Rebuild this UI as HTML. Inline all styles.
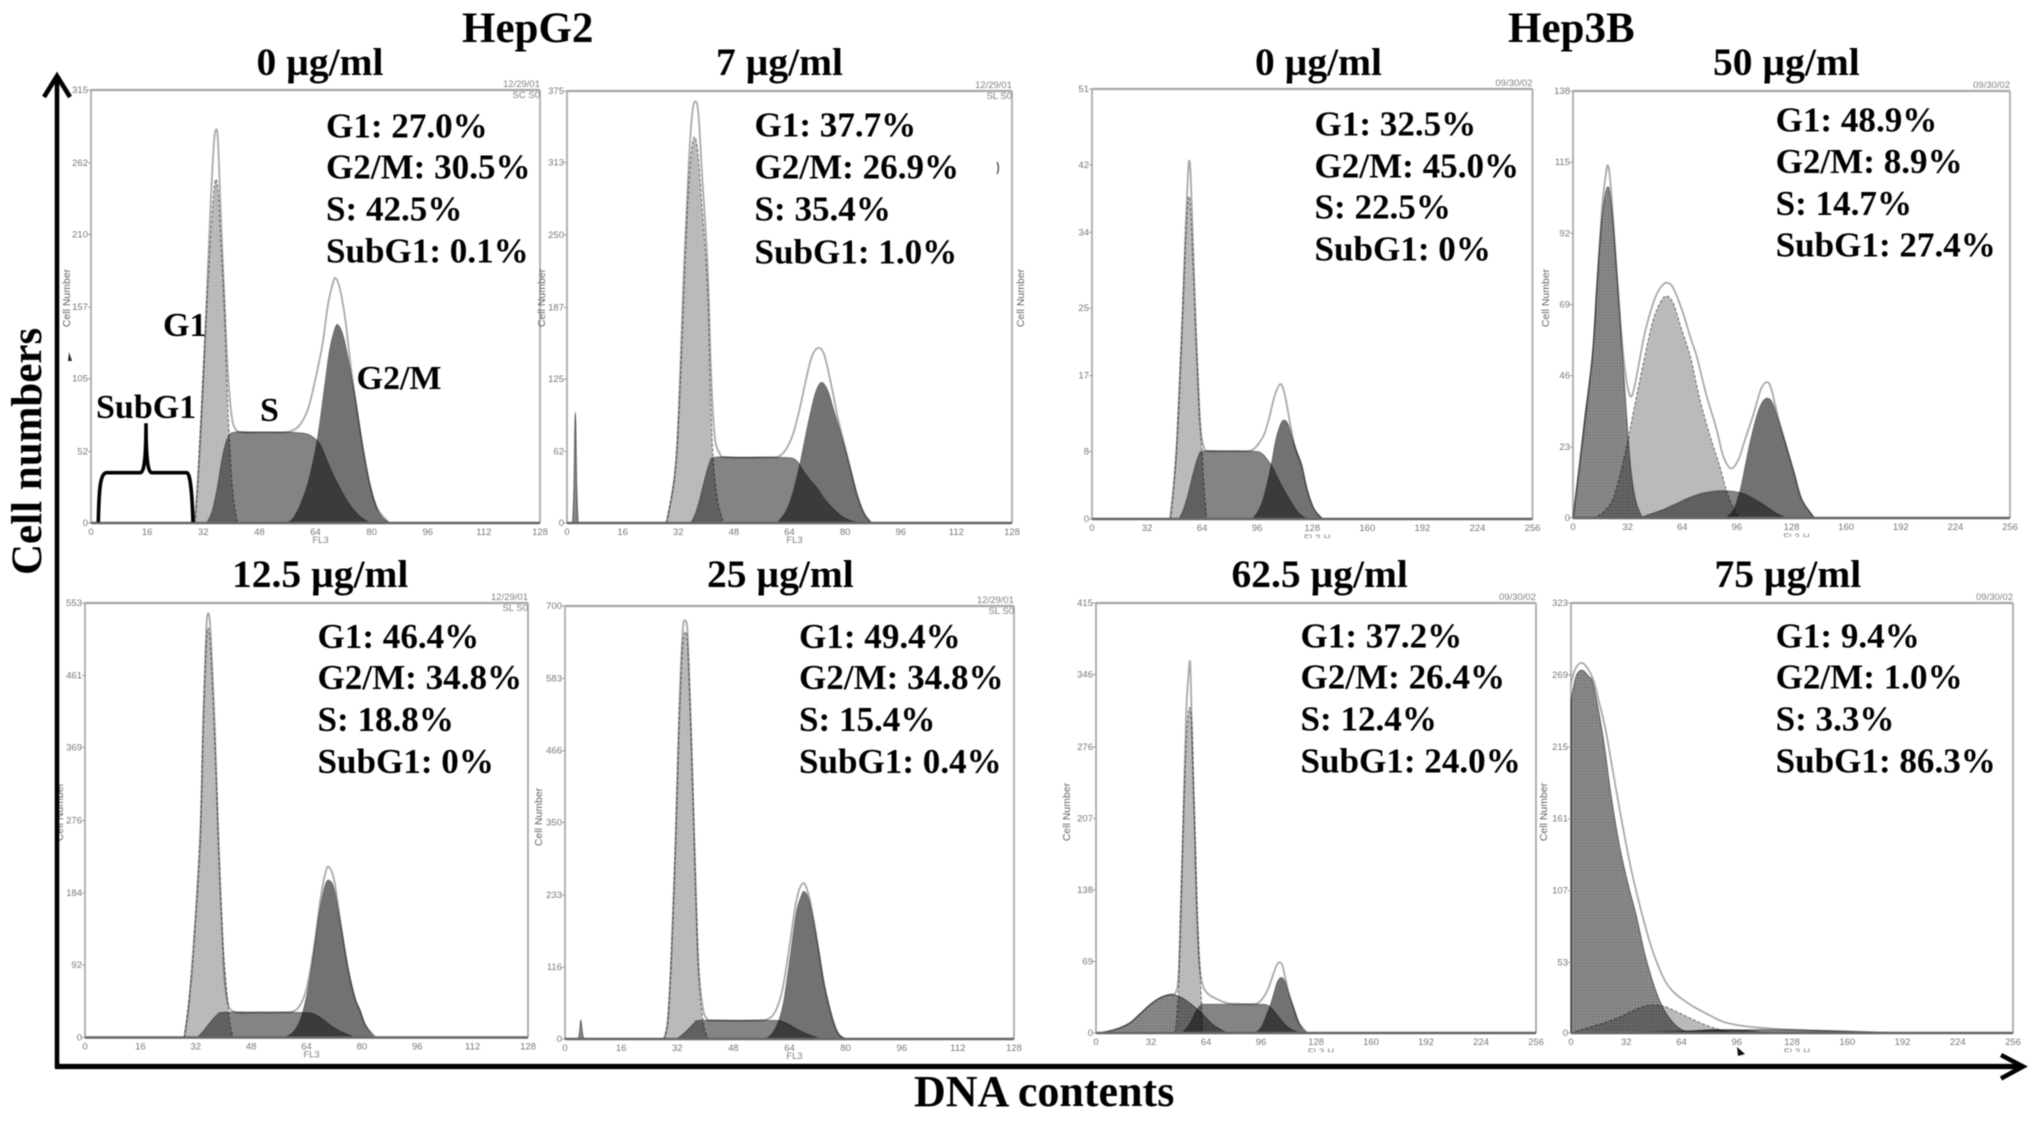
<!DOCTYPE html>
<html lang="en">
<head>
<meta charset="utf-8">
<title>Cell cycle DNA content histograms for HepG2 and Hep3B</title>
<style>
html,body{margin:0;padding:0;background:#fff;width:2031px;height:1121px;overflow:hidden}
#figure{display:block;filter:blur(.6px)}
.big{font-family:"Liberation Serif",serif;font-weight:bold;fill:#000}
.title{font-size:43px}
.dose{font-size:39.5px}
.stat{font-size:35.1px}
.note{font-size:34px}
.axis-title{font-size:44px}
.tick{font-family:"Liberation Sans",sans-serif;font-size:9.5px;fill:#777}
.small{font-family:"Liberation Sans",sans-serif;font-size:9.5px;fill:#808080}
.ytitle{font-family:"Liberation Sans",sans-serif;font-size:10.5px;fill:#666}
</style>
</head>
<body>
<svg id="figure" xmlns="http://www.w3.org/2000/svg" width="2031" height="1121" viewBox="0 0 2031 1121">
  <defs>
    <pattern id="dots" width="3" height="3" patternUnits="userSpaceOnUse">
      <rect width="3" height="3" fill="#bcbcbc"/>
      <rect width="1" height="1" fill="#a6a6a6"/>
    </pattern>
    <pattern id="hatch" width="3" height="3" patternUnits="userSpaceOnUse">
      <rect width="3" height="3" fill="#8e8e8e"/>
      <path d="M0 0H3M0 0V3" stroke="#707070" stroke-width="1"/>
    </pattern>
  </defs>
  <rect width="2031" height="1121" fill="#fff"/>
  <g id="plots"></g>

  <text class="big title" x="462" y="42">HepG2</text>
  <text class="big title" x="1508" y="42">Hep3B</text>

  <text class="big dose" x="256.500" y="75">0 µg/ml</text>
  <text class="big dose" x="716" y="75">7 µg/ml</text>
  <text class="big dose" x="232" y="587">12.5 µg/ml</text>
  <text class="big dose" x="707" y="587">25 µg/ml</text>
  <text class="big dose" x="1255" y="75">0 µg/ml</text>
  <text class="big dose" x="1713" y="75">50 µg/ml</text>
  <text class="big dose" x="1231.500" y="587">62.5 µg/ml</text>
  <text class="big dose" x="1714.500" y="587">75 µg/ml</text>

  <g class="big stat">
    <text x="326" y="137.5">G1: 27.0%</text><text x="326" y="178.6">G2/M: 30.5%</text><text x="326" y="220.7">S: 42.5%</text><text x="326" y="262.5">SubG1: 0.1%</text>
  </g>
  <g class="big stat">
    <text x="754.5" y="136.4">G1: 37.7%</text><text x="754.5" y="178.6">G2/M: 26.9%</text><text x="754.5" y="220.7">S: 35.4%</text><text x="754.5" y="263.5">SubG1: 1.0%</text>
  </g>
  <g class="big stat">
    <text x="317.5" y="648">G1: 46.4%</text><text x="317.5" y="689">G2/M: 34.8%</text><text x="317.5" y="731">S: 18.8%</text><text x="317.5" y="773">SubG1: 0%</text>
  </g>
  <g class="big stat">
    <text x="799" y="648">G1: 49.4%</text><text x="799" y="689">G2/M: 34.8%</text><text x="799" y="731">S: 15.4%</text><text x="799" y="773">SubG1: 0.4%</text>
  </g>
  <g class="big stat">
    <text x="1314.5" y="135.7">G1: 32.5%</text><text x="1314.5" y="177.5">G2/M: 45.0%</text><text x="1314.5" y="218.6">S: 22.5%</text><text x="1314.5" y="260.7">SubG1: 0%</text>
  </g>
  <g class="big stat">
    <text x="1775.6" y="131.4">G1: 48.9%</text><text x="1775.6" y="173">G2/M: 8.9%</text><text x="1775.6" y="215">S: 14.7%</text><text x="1775.6" y="256.4">SubG1: 27.4%</text>
  </g>
  <g class="big stat">
    <text x="1300.5" y="647.5">G1: 37.2%</text><text x="1300.5" y="688.6">G2/M: 26.4%</text><text x="1300.5" y="730.7">S: 12.4%</text><text x="1300.5" y="772.5">SubG1: 24.0%</text>
  </g>
  <g class="big stat">
    <text x="1775.6" y="647.5">G1: 9.4%</text><text x="1775.6" y="688.6">G2/M: 1.0%</text><text x="1775.6" y="730.7">S: 3.3%</text><text x="1775.6" y="772.5">SubG1: 86.3%</text>
  </g>

  <text class="big note" x="163" y="336">G1</text>
  <text class="big note" x="96" y="418">SubG1</text>
  <text class="big note" x="260" y="421">S</text>
  <text class="big note" x="356.5" y="389">G2/M</text>
  <path fill="none" stroke="#000" stroke-width="3.6"
        d="M98.3 522C99 490 100 472.7 106.7 472.7L140 472.7C142.500 472.7 146 470 146 423.300C146 470 149.500 472.700 152 472.700L186.700 472.700C190 472.700 192 490 193 522"/>

  <path d="M69 352L72 361L68 361Z" fill="#222"/>
  <path d="M997 162Q1000 168 997 174" fill="none" stroke="#333" stroke-width="1.2"/>
  <path d="M1737 1047L1745 1054L1738 1056Z" fill="#111"/>

  <g fill="none" stroke="#000">
    <path d="M57 76V1068" stroke-width="4.6"/>
    <path d="M44 97L57 76L70 97" stroke-width="4.6"/>
  </g>
  <g fill="none" stroke="#000">
    <path d="M55 1066.500H2022" stroke-width="5.200"/>
    <path d="M2001 1055L2023 1066.500L2001 1078.500" stroke-width="4.600"/>
  </g>
  <text class="big axis-title" style="font-size:43px" transform="translate(41 575) rotate(-90)">Cell numbers</text>
  <text class="big axis-title" x="914" y="1106">DNA contents</text>
</svg>

<script>
// Tick labels
const hepG2XTicks = [0, 16, 32, 48, 64, 80, 96, 112, 128];
const hep3BXTicks = [0, 32, 64, 96, 128, 160, 192, 224, 256];
const A_yTicks = [0, 52, 105, 157, 210, 262, 315];
const B_yTicks = [0, 62, 125, 187, 250, 313, 375];
const C_yTicks = [0, 92, 184, 276, 369, 461, 553];
const D_yTicks = [0, 116, 233, 350, 466, 583, 700];
const E_yTicks = [0, 8, 17, 25, 34, 42, 51];
const F_yTicks = [0, 23, 46, 69, 92, 115, 138];
const G_yTicks = [0, 69, 138, 207, 276, 346, 415];
const H_yTicks = [0, 53, 107, 161, 215, 269, 323];

// HepG2 0 ug/ml: [channel, count]
const A_g1 = [[29.6,0],[30.5,30],[31.2,69],[32,110],[33,157],[34,205],[35,240],[35.6,250],[36.3,240],[37,205],[38,157],[38.7,105],[39.3,69],[40.3,25],[41.7,0]];
const A_s = [[33,0],[34.5,8],[36,25],[37.5,48],[39,62],[41,66],[48,66],[55,66],[61,65],[63.5,62],[65.3,57],[67,47],[69,35],[71,25],[73,16],[75,9],[77,4],[79.5,0]];
const A_g2 = [[55.8,0],[57.5,3],[59.5,12],[62,30],[64.5,60],[66.5,97],[68,125],[69.5,141],[70.5,144],[72,135],[74,110],[75.5,88],[77.5,55],[79.5,28],[81.5,11],[83,4],[85,0]];
const A_total = [[29.6,0],[31,55],[32,105],[33,165],[34,225],[35,275],[35.6,286],[36.2,278],[37,225],[38,165],[39,110],[40,80],[41,69],[43,66],[48,66],[55,66],[58,68],[60,73],[62,84],[64,105],[66,130],[67.5,158],[69,175],[69.8,178],[71,170],[72.5,148],[74,115],[75.5,88],[77.5,55],[79.5,28],[81.5,11],[85,0]];

// HepG2 7 ug/ml
const B_sub = [[1.6,0],[2,30],[2.4,96],[2.8,30],[3.2,0]];
const B_g1 = [[28.6,0],[30,22],[31.5,57],[32.7,130],[33.7,206],[34.7,275],[35.7,320],[36.7,335],[37.7,320],[38.7,280],[40.4,206],[41.2,120],[42,57],[43.3,20],[45,0]];
const B_s = [[35.6,0],[36.7,6],[38,18],[39.5,36],[41,52],[42.5,57],[50,57],[58,57],[64,56.5],[66,54],[68,45],[70,37],[72,30],[74,21],[77,11],[80,4],[84,0]];
const B_g2 = [[60.5,0],[63,10],[65,26],[67,51],[69.5,88],[71.5,113],[73.2,122],[75,115],[76.5,100],[78.3,82],[80,64],[81.6,46],[83.5,24],[85.5,8],[87.6,0]];
const B_total = [[28.6,0],[31.5,60],[33.7,225],[35,310],[36,355],[36.9,366],[37.8,355],[38.8,305],[40.4,225],[41.5,125],[42.5,75],[44,60],[46,57],[58,57],[61,58],[63,64],[65,77],[67,100],[69,128],[70.5,145],[72.3,152],[74,146],[76,120],[78,90],[80,66],[81.6,46],[83.5,24],[85.5,8],[87.6,0]];

// HepG2 12.5 ug/ml
const C_g1 = [[28.7,0],[30.4,62],[31.5,120],[33.2,244],[34.1,380],[35,495],[35.6,521],[36.3,495],[37.5,380],[38.6,244],[39.7,130],[40.9,62],[41.8,20],[42.8,0]];
const C_s = [[32.5,0],[34,7],[36,18],[38,28],[40,32],[50,32],[60,32],[65,31],[67,28],[69,22],[71,15],[74,7],[78,0]];
const C_g2 = [[57.6,0],[60,6],[62,20],[63.4,40],[65,75],[66.5,120],[68,165],[69.5,195],[70.7,199.5],[72,188],[74,140],[76,88],[78,50],[79.4,35],[81,16],[83,3],[84,0]];
const C_total = [[28.7,0],[30.4,62],[33.2,250],[34.1,400],[35,515],[35.6,540],[36.3,515],[37.5,395],[38.6,250],[40,100],[41,50],[43,33],[50,32],[58,32],[60,33],[62,40],[64,62],[66,110],[68,175],[69.5,210],[70.5,217],[72,200],[74,142],[76,88],[78,50],[79.4,35],[81,16],[84,0]];

// HepG2 25 ug/ml
const D_sub = [[3.8,0],[4.2,12],[4.5,31],[4.9,12],[5.3,0]];
const D_g1 = [[28.2,0],[29.3,30],[30.3,130],[31.5,312],[32.5,500],[33.5,630],[34.3,658],[35,630],[36,480],[36.9,312],[38,120],[39.3,30],[40.8,0]];
const D_s = [[31.9,0],[33.5,7],[35,15],[37,26],[38.5,30],[50,30],[60,30],[62,28],[64,23],[66,16],[69,8],[73,0]];
const D_g2 = [[57,0],[59,8],[61,30],[62.5,65],[64.4,140],[66,205],[67.5,233],[68.3,238],[69.5,225],[71,185],[72.4,140],[74,85],[76.4,30],[78,8],[80,0]];
const D_total = [[28.2,0],[29.3,30],[30.3,135],[31.5,320],[32.5,520],[33.5,655],[34.3,676],[35,650],[36,490],[36.9,320],[38,125],[39.3,50],[40.5,33],[42,30],[55,30],[58,33],[60,45],[62,80],[64,150],[66,225],[67.9,252],[69.5,232],[71,190],[72.4,140],[74,85],[76.4,30],[78,8],[80,0]];

// Hep3B 0 ug/ml
const E_g1 = [[45.4,0],[47,2.5],[49,8],[50.5,14],[52.5,23.4],[54,31],[55.5,37],[56.6,38.2],[57.5,36],[58.8,30],[60,23.4],[61.5,17],[63,10.5],[64,8],[65,4],[66.7,0]];
const E_s = [[50.6,0],[53,1],[56,3],[59,5.5],[62,7.5],[65,8.05],[80,8.05],[95,8],[99,7.7],[102,7],[105,6.1],[110,4],[115.4,2.1],[120,0.7],[125,0]];
const E_g2 = [[93,0],[96,0.7],[99,2],[102,4.3],[104.2,6.4],[107,9.5],[110,11.4],[112,11.7],[114,11.2],[116.5,9.5],[119,8],[121.8,6.4],[125,3.5],[129,1.2],[134,0]];
const E_total = [[45.4,0],[49,8],[52.5,24],[54.5,35],[55.8,41],[56.6,42.5],[57.4,40.5],[58.8,32],[60,25],[61.5,17],[63,11],[65,8.5],[68,8.05],[80,8.05],[90,8.05],[94,8.3],[97,9],[100,10],[103,12],[106,14.5],[109.4,16],[112,14.8],[115,11.5],[118,8.5],[121.8,6.4],[125,3.5],[129,1.2],[134,0]];

// Hep3B 50 ug/ml
const F_sub = [[0,0],[3.8,17],[7,33],[11.3,52],[14,75],[17,97],[20.4,107],[23,98],[25.5,80],[29,52],[31.5,32],[33.6,17],[36.5,6],[40.5,0]];
const F_g1 = [[12,0],[18,2],[24,7],[31,22],[36,36],[42,52],[47,64],[52,70.5],[55.6,71.6],[59,69],[63,62],[68.8,52],[74,39],[80,27],[85.8,17],[91,7],[97,0]];
const F_s = [[38.6,0],[44,1],[52,2.5],[60,4.5],[68,6.5],[76,8],[84,8.7],[92,8.7],[100,7.8],[108,5.5],[115,3],[120,1.2],[125.5,0]];
const F_g2 = [[89.6,0],[94,2.5],[98,9],[101,17],[104,25],[108,33.5],[111,37.5],[114.2,38.7],[117,37],[120,32],[124,25],[129.3,15],[134,6],[141.4,0]];
const F_total = [[0,0],[3.8,17],[11.3,52],[14,75],[17,100],[19,110],[20.4,114],[22,108],[25,85],[28,62],[30,50],[32.5,41],[34.8,39.8],[38,48],[41,57],[44,64],[48,71],[52,75],[55.6,76],[59,74],[64,67],[69,58],[72.6,52],[78,40],[84,28.9],[88,20],[92.6,16],[97,19],[100,24],[103,29],[106,34],[110,41.5],[113.4,43.9],[116,42],[120,33],[124,25],[129.3,15],[134,6],[141.4,0]];

// Hep3B 62.5 ug/ml
const G_sub = [[2,0],[8,2],[14,5],[20,10],[26,19],[32,28],[38,34.5],[44,37],[50,34],[56,27],[62,18],[68,8],[76,0]];
const G_g1 = [[45.9,0],[47,15],[48,43],[49,100],[50.4,181],[51.5,240],[53,295],[54.5,314],[55.8,295],[56.8,240],[57.9,181],[59,115],[61,43],[62,0]];
const G_s = [[49.6,0],[52,3],[55,10],[58,20],[61,27],[64,27.6],[80,27.6],[96,27.6],[100,26.5],[103,22],[106,16],[110,8],[114,3],[119,0]];
const G_g2 = [[92.9,0],[96,5],[98,12],[100.4,22],[103,35],[105.5,49],[107.9,53.4],[110,49],[112,38],[115.4,22],[118,10],[120.5,3],[123,0]];
const G_total = [[2,0],[8,2],[14,5],[20,10],[26,19],[32,28],[38,34.5],[44,37.5],[46,38],[48,55],[49.5,130],[51,220],[52.5,310],[54,350],[54.5,358],[55,350],[56,280],[57.2,210],[58.5,130],[60,70],[62,47],[65,38],[70,33],[76,29],[85,28],[92,28],[95,30],[98,36],[100.5,44],[103,56],[105,65],[106.8,68.3],[108.5,65],[110,54],[112,40],[115.4,22],[118,10],[123,0]];

// Hep3B 75 ug/ml
const H_sub = [[0,250],[3,268],[6.4,272.6],[10,268],[13,261],[18.7,221],[23,180],[28,141],[33,112],[38,87],[43,58],[48.6,33.5],[54,17],[59.8,6.7],[64,2.5],[69,0]];
const H_g1 = [[0,0],[10,4],[20,8],[30,13],[38,18],[44,20.5],[48.6,21],[54,20],[62,15.5],[70,10.5],[78,6],[86,2.5],[93.4,0]];
const H_s = [[17,0],[40,0.6],[70,1.5],[90,2],[110,2.5],[130,2.2],[150,1.6],[170,0.8],[192,0]];
const H_g2 = [[55,0],[65,1],[75,2],[85,2.5],[100,2],[114,0]];
const H_total = [[0,262],[2,272],[5.6,278],[9,275],[13,265],[16,250],[20,228],[25,191],[30,155],[35,122],[40,95],[45,71],[50,52],[55,38],[60,30],[66,24],[72,19],[80,13.5],[88,8.5],[96,6],[105,4.5],[120,3],[140,2],[160,1.2],[175,.5],[192,0]];

const panels = [
  {id:'hepg2-0',   frame:[91,540,90,523],     xTicks:hepG2XTicks, yTicks:A_yTicks, g1:A_g1, s:A_s, g2:A_g2, total:A_total, axisName:'FL3',  date:'12/29/01', code:'SC S0', yTitle:[70,298]},
  {id:'hepg2-7',   frame:[567,1012,91,523],   xTicks:hepG2XTicks, yTicks:B_yTicks, sub:B_sub, g1:B_g1, s:B_s, g2:B_g2, total:B_total, axisName:'FL3',  date:'12/29/01', code:'SL S0', yTitle:[545,298]},
  {id:'hepg2-12-5',frame:[85,528,603,1037.5], xTicks:hepG2XTicks, yTicks:C_yTicks, g1:C_g1, s:C_s, g2:C_g2, total:C_total, axisName:'FL3',  date:'12/29/01', code:'SL S0', yTitle:[63,812]},
  {id:'hepg2-25',  frame:[565,1014,606,1039], xTicks:hepG2XTicks, yTicks:D_yTicks, sub:D_sub, g1:D_g1, s:D_s, g2:D_g2, total:D_total, axisName:'FL3',  date:'12/29/01', code:'SL S0', yTitle:[542,817]},
  {id:'hep3b-0',   frame:[1092,1532.5,89,519],xTicks:hep3BXTicks, yTicks:E_yTicks, g1:E_g1, s:E_s, g2:E_g2, total:E_total, axisName:'FL3-H', date:'09/30/02', code:'', yTitle:[1024,298]},
  {id:'hep3b-50',  frame:[1573,2010,91,518],  xTicks:hep3BXTicks, yTicks:F_yTicks, sub:F_sub, g1:F_g1, s:F_s, g2:F_g2, total:F_total, axisName:'FL3-H', date:'09/30/02', code:'', yTitle:[1549,298]},
  {id:'hep3b-62-5',frame:[1096,1536,603,1033],xTicks:hep3BXTicks, yTicks:G_yTicks, sub:G_sub, g1:G_g1, s:G_s, g2:G_g2, total:G_total, axisName:'FL3-H', date:'09/30/02', code:'', yTitle:[1070,812]},
  {id:'hep3b-75',  frame:[1571,2013,603,1033],xTicks:hep3BXTicks, yTicks:H_yTicks, sub:H_sub, g1:H_g1, s:H_s, g2:H_g2, total:H_total, axisName:'FL3-H', date:'09/30/02', code:'', yTitle:[1547,812]}
];

const NS = 'http://www.w3.org/2000/svg';
const root = document.getElementById('plots');

function make(tag, parent, attrs, text) {
  const el = document.createElementNS(NS, tag);
  for (const k in attrs) el.setAttribute(k, attrs[k]);
  if (text !== undefined) el.textContent = text;
  parent.appendChild(el);
  return el;
}

function smoothPath(pts, x, y) {
  let d = '';
  for (let i = 0; i < pts.length - 1; i++) {
    const p0 = pts[Math.max(i - 1, 0)], p1 = pts[i], p2 = pts[i + 1], p3 = pts[Math.min(i + 2, pts.length - 1)];
    const c1x = x(p1[0]) + (x(p2[0]) - x(p0[0])) / 6, c1y = y(p1[1]) + (y(p2[1]) - y(p0[1])) / 6;
    const c2x = x(p2[0]) - (x(p3[0]) - x(p1[0])) / 6, c2y = y(p2[1]) - (y(p3[1]) - y(p1[1])) / 6;
    d += 'C' + c1x.toFixed(2) + ' ' + c1y.toFixed(2) + ' ' + c2x.toFixed(2) + ' ' + c2y.toFixed(2) + ' ' + x(p2[0]).toFixed(2) + ' ' + y(p2[1]).toFixed(2);
  }
  return d;
}

function drawFill(parent, pts, x, y, fill, edge, dash) {
  const first = pts[0], last = pts[pts.length - 1];
  const d = 'M' + x(first[0]).toFixed(2) + ' ' + y(0).toFixed(2) + 'L' + x(first[0]).toFixed(2) + ' ' + y(first[1]).toFixed(2) +
            smoothPath(pts, x, y) + 'L' + x(last[0]).toFixed(2) + ' ' + y(0).toFixed(2) + 'Z';
  const attrs = {d: d, fill: fill, stroke: edge, 'stroke-width': 1, style: 'mix-blend-mode:multiply'};
  if (dash) attrs['stroke-dasharray'] = dash;
  return make('path', parent, attrs);
}

panels.forEach(function (p) {
  const l = p.frame[0], r = p.frame[1], t = p.frame[2], b = p.frame[3];
  const xMax = p.xTicks[p.xTicks.length - 1];
  const yMax = p.yTicks[p.yTicks.length - 1];
  const x = function (v) { return l + (r - l) * v / xMax; };
  const y = function (v) { return b - (b - t) * v / yMax; };

  const g = make('g', root, {});
  
  

  const frame = make('path', g, {d: 'M' + l + ' ' + b + 'V' + t + 'M' + r + ' ' + t + 'V' + b, fill: 'none', stroke: '#ababab', 'stroke-width': 1.8});
  
  
  const topLine = make('line', g, {x1: l, x2: r, y1: t, y2: t, stroke: '#a6a6a6', 'stroke-width': 2.2});
  
  

  const total = make('path', g, {
    d: 'M' + x(p.total[0][0]).toFixed(2) + ' ' + y(p.total[0][1]).toFixed(2) + smoothPath(p.total, x, y),
    fill: 'none', stroke: '#a9a9a9', 'stroke-width': 1.8
  });
  
  

  if (p.sub) {
    const sub = drawFill(g, p.sub, x, y, 'url(#hatch)', '#5c5c5c');
    
    
  }
  const g1 = drawFill(g, p.g1, x, y, 'url(#dots)', '#666', '3 2');
  
  
  const s = drawFill(g, p.s, x, y, '#848484', '#6a6a6a');
  
  
  const g2 = drawFill(g, p.g2, x, y, '#727272', '#666');
  
  

  const base = make('line', g, {x1: l, x2: r, y1: b, y2: b, stroke: '#666', 'stroke-width': 2.4});
  
  

  p.xTicks.forEach(function (v) {
    const label = make('text', g, {class: 'tick', x: x(v), y: b + 12, 'text-anchor': 'middle'}, v);
    
    
  });
  p.yTicks.forEach(function (v) {
    const mark = make('line', g, {x1: l - 3, x2: l, y1: y(v), y2: y(v), stroke: '#999', 'stroke-width': 1});
    
    
    const label = make('text', g, {class: 'tick', x: l - 3, y: y(v) + 3, 'text-anchor': 'end'}, v);
    
    
  });

  const clipped = p.code === '';
  const xName = make('text', g, {class: 'small', x: x(xMax / 2) + 5, y: b + (clipped ? 22 : 20), 'text-anchor': 'middle'}, p.axisName);
  
  
  if (clipped) {
    const cover = make('rect', g, {x: x(xMax / 2) - 30, y: b + 19, width: 70, height: 8, fill: '#fff'});
    
    
  }
  const yName = make('text', g, {class: 'ytitle', 'text-anchor': 'middle', transform: 'translate(' + p.yTitle[0] + ' ' + p.yTitle[1] + ') rotate(-90)'}, 'Cell Number');
  
  
  const date = make('text', g, {class: 'small', x: r, y: t - 3, 'text-anchor': 'end'}, p.date);
  
  
  if (p.code) {
    const code = make('text', g, {class: 'small', x: r, y: t + 8, 'text-anchor': 'end'}, p.code);
    
    
  }
});
</script>
</body>
</html>
